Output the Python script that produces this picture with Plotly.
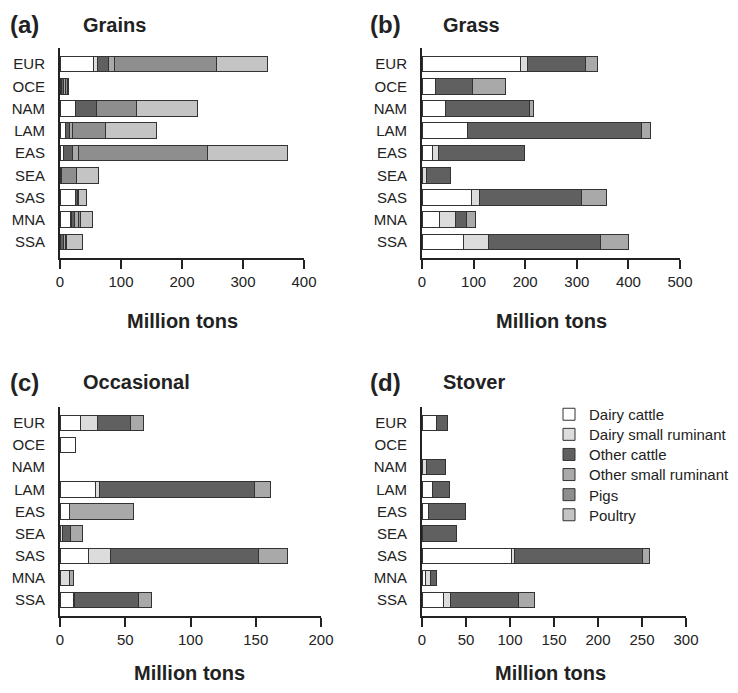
import plotly.graph_objects as go

regions = ["EUR", "OCE", "NAM", "LAM", "EAS", "SEA", "SAS", "MNA", "SSA"]
series_names = ["Dairy cattle", "Dairy small ruminant", "Other cattle",
                "Other small ruminant", "Pigs", "Poultry"]
series_colors = ["#ffffff", "#dcdcdc", "#606060", "#a9a9a9", "#8e8e8e", "#c4c4c4"]

# Grains (a)
grains_dairy_cattle = [55, 2, 25, 9, 5, 0, 25, 17, 1]
grains_dairy_sr = [7, 0, 0, 0, 0, 0, 1, 2, 0]
grains_other_cattle = [17, 4, 35, 7, 16, 2, 2, 5, 4]
grains_other_sr = [10, 3, 0, 4, 9, 0, 2, 6, 4]
grains_pigs = [167, 3, 66, 55, 211, 25, 1, 3, 2]
grains_poultry = [84, 2, 99, 83, 132, 36, 13, 20, 26]

# Grass (b)
grass_dairy_cattle = [191, 26, 45, 89, 21, 0, 96, 33, 80]
grass_dairy_sr = [13, 0, 0, 0, 10, 8, 16, 31, 48]
grass_other_cattle = [112, 71, 163, 337, 168, 47, 197, 22, 217]
grass_other_sr = [24, 65, 9, 16, 0, 0, 48, 17, 55]
grass_pigs = [0] * 9
grass_poultry = [0] * 9

# Occasional (c)
occ_dairy_cattle = [16, 12, 0, 27, 7, 0, 22, 0, 10]
occ_dairy_sr = [13, 0, 0, 3, 0, 2, 17, 7, 1]
occ_other_cattle = [25, 0, 0, 119, 0, 6, 113, 0, 49]
occ_other_sr = [10, 0, 0, 12, 49, 9, 22, 3, 10]
occ_pigs = [0] * 9
occ_poultry = [0] * 9

# Stover (d)
stover_dairy_cattle = [17, 0, 0, 12, 7, 0, 102, 4, 24]
stover_dairy_sr = [0, 0, 5, 0, 0, 0, 3, 6, 8]
stover_other_cattle = [12, 0, 22, 19, 42, 39, 145, 7, 78]
stover_other_sr = [0, 0, 0, 0, 0, 0, 9, 0, 18]
stover_pigs = [0] * 9
stover_poultry = [0] * 9

panels = [
    ("(a)", "Grains", [grains_dairy_cattle, grains_dairy_sr, grains_other_cattle,
                       grains_other_sr, grains_pigs, grains_poultry], [0, 400], [0, 100, 200, 300, 400]),
    ("(b)", "Grass", [grass_dairy_cattle, grass_dairy_sr, grass_other_cattle,
                      grass_other_sr, grass_pigs, grass_poultry], [0, 500], [0, 100, 200, 300, 400, 500]),
    ("(c)", "Occasional", [occ_dairy_cattle, occ_dairy_sr, occ_other_cattle,
                           occ_other_sr, occ_pigs, occ_poultry], [0, 200], [0, 50, 100, 150, 200]),
    ("(d)", "Stover", [stover_dairy_cattle, stover_dairy_sr, stover_other_cattle,
                       stover_other_sr, stover_pigs, stover_poultry], [0, 300], [0, 50, 100, 150, 200, 250, 300]),
]

# page has an 8px body margin on every side; figure sized so the page fits the window
OFF = 8
W, H = 738 - 2 * OFF, 693 - 2 * OFF
def px_x(p): return (p - OFF) / W
def px_y(p): return 1 - (p - OFF) / H

x_domains = [(60, 304), (422, 680), (60, 321), (422, 686)]
y_domains = [(48, 258), (48, 258), (407, 616), (407, 616)]
title_centers = [182, 551, 190, 550]
title_ys = [321, 321, 672.5, 672.5]
label_pos = [(8, 25), (368, 25), (8, 382), (368, 382)]

FONT = "Liberation Sans, Arial, Helvetica, sans-serif"
fig = go.Figure()

legend_keys = ["legend", "legend2", "legend3", "legend4", "legend5", "legend6"]

for i, (lab, ttl, series, rng, tickv) in enumerate(panels):
    ax = "" if i == 0 else str(i + 1)
    for k, name in enumerate(series_names):
        vals = [v if v else None for v in series[k]]
        fig.add_trace(go.Bar(
            x=vals, y=regions, orientation="h", name=name,
            marker=dict(color=series_colors[k], line=dict(color="#333333", width=1)),
            width=0.7, xaxis="x" + ax, yaxis="y" + ax,
            legendgroup=name, showlegend=(i == 3), legend=legend_keys[k],
            hoverinfo="x+y+name",
        ))
    xd = x_domains[i]
    yd = y_domains[i]
    fig.layout["xaxis" + ax] = dict(
        domain=[px_x(xd[0]), px_x(xd[1])], anchor="y" + ax, range=rng,
        tickvals=tickv, ticks="outside", ticklen=9, tickwidth=2, tickcolor="#222222",
        showline=True, linewidth=2, linecolor="#222222", showgrid=False, zeroline=False,
        tickfont=dict(size=15, color="#222222", family=FONT), fixedrange=True,
    )
    fig.layout["yaxis" + ax] = dict(
        domain=[px_y(yd[1]), px_y(yd[0])], anchor="x" + ax,
        categoryorder="array", categoryarray=regions[::-1], range=[-0.72, 8.72],
        showline=True, linewidth=2, linecolor="#222222", showgrid=False, zeroline=False,
        ticks="", ticklabelstandoff=10,
        tickfont=dict(size=15, color="#222222", family=FONT), fixedrange=True,
    )
    fig.add_annotation(text="<b>%s</b>" % lab, x=px_x(label_pos[i][0]), y=px_y(label_pos[i][1]),
                       xref="paper", yref="paper", xanchor="left", yanchor="middle",
                       showarrow=False, font=dict(size=24, color="#222222", family=FONT))
    fig.add_annotation(text="<b>%s</b>" % ttl, x=px_x(label_pos[i][0] + 73), y=px_y(label_pos[i][1]),
                       xref="paper", yref="paper", xanchor="left", yanchor="middle",
                       showarrow=False, font=dict(size=20, color="#222222", family=FONT))
    fig.add_annotation(text="<b>Million tons</b>", x=px_x(title_centers[i]), y=px_y(title_ys[i]),
                       xref="paper", yref="paper", xanchor="center", yanchor="middle",
                       showarrow=False, font=dict(size=20, color="#222222", family=FONT))

layout_legends = {}
for k, key in enumerate(legend_keys):
    layout_legends[key] = dict(
        x=px_x(549), y=px_y(398 + 20.1 * k), xanchor="left", yanchor="top",
        font=dict(size=15, color="#222222", family=FONT),
        bgcolor="rgba(0,0,0,0)",
    )

fig.update_layout(
    width=W, height=H, barmode="stack",
    margin=dict(l=0, r=0, t=0, b=0, autoexpand=False),
    paper_bgcolor="white", plot_bgcolor="white",
    font=dict(family=FONT, color="#222222"),
    **layout_legends,
)

fig.write_html("out.html")
